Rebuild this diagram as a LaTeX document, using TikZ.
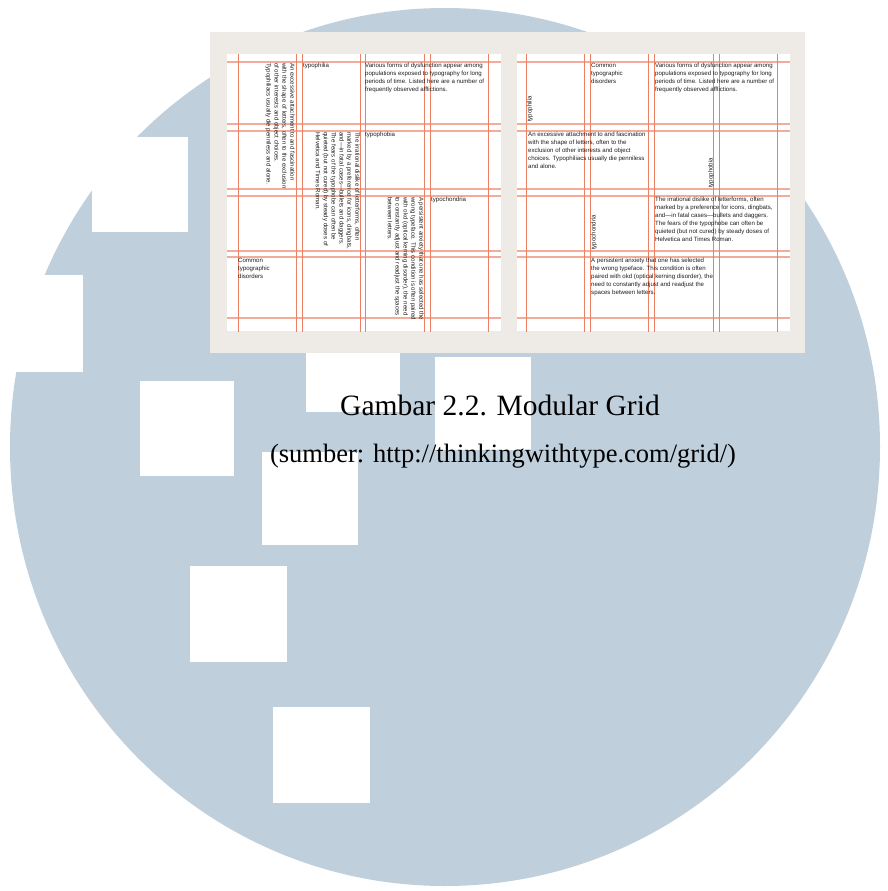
\documentclass[tikz,border=0pt]{standalone}
\usepackage{fontspec}
\setmainfont{Liberation Serif}
\newfontfamily\gridsans{Liberation Sans}
\definecolor{logoblue}{RGB}{192,207,220}
\definecolor{boardgrey}{RGB}{238,235,230}
\definecolor{gridorange}{RGB}{236,128,98}
\definecolor{inkgrey}{RGB}{30,30,30}

\begin{document}
\begin{tikzpicture}[
    x=1pt, y=-1pt,
    tile/.style={fill=white},
    sheet/.style={fill=white},
    vline/.style={draw=gridorange, line width=0.8pt},
    hline/.style={draw=gridorange!65, line width=1.1pt},
    gridtext/.style={anchor=north west, inner sep=0pt, align=left, text=inkgrey, font=\gridsans\fontsize{6.1}{7.9}\selectfont},
    downtext/.style={gridtext, rotate=-90},
    uptext/.style={gridtext, rotate=90},
    captiontext/.style={anchor=base, inner sep=0pt}
]
\useasboundingbox (0,0) rectangle (888,891);
\fill[white] (0,0) rectangle (888,891);

% watermark
\fill[logoblue] (445,447) ellipse [x radius=435pt, y radius=439pt];
\foreach \xa/\ya/\xb/\yb in {-11/275/83/372, 92/137/188/232, 140/381/234/476,
    306/317/400/412, 435/357/531/450, 262/452/358/545, 190/566/287/662, 273/707/370/803}
  \fill[tile] (\xa,\ya) rectangle (\xb,\yb);

% board and the two pages
\fill[boardgrey] (210,32) rectangle (805,353);
\fill[sheet] (227,54) rectangle (501,331);
\fill[sheet] (517,54) rectangle (790,331);

\foreach \gy in {62,124,131,189,196,251,257,318} {
  \draw[hline] (227,\gy) -- (501,\gy);
  \draw[hline] (517,\gy) -- (790,\gy);
}
\foreach \gx in {238,296,302,360,365,424,430,488}
  \draw[vline] (\gx,54) -- (\gx,332);
\foreach \gx in {526,584,590,648,654,713,719,777}
  \draw[vline] (\gx,54) -- (\gx,332);

% left page
\node[downtext] (lattach) at (295,63) {An excessive attachment to and fascination\\with the shape of letters, often to the exclusion\\of other interests and object choices.\\Typophiliacs usually die penniless and alone.};
\node[gridtext] (lphilia) at (303,63) {typophilia};
\node[gridtext] (lforms) at (365,63) {Various forms of dysfunction appear among\\populations exposed to typography for long\\periods of time.  Listed here are a number of\\frequently observed afflictions.};
\node[gridtext] (lphobia) at (365,132) {typophobia};
\node[downtext] (ldislike) at (360,132) {The irrational dislike of letterforms, often\\marked by a preference for icons, dingbats,\\and—in fatal cases—bullets and daggers.\\The fears of the typophobe can often be\\quieted (but not cured) by steady doses of\\Helvetica and Times Roman.};
\node[gridtext] (lchondria) at (431,197) {typochondria};
\node[downtext] (lanxiety) at (424,197) {A persistent anxiety that one has selected the\\wrong typeface. This condition is often paired\\with okd (optical kerning disorder), the need\\to constantly adjust and readjust the spaces\\between letters.};
\node[gridtext] (lcommon) at (238,258) {Common\\typographic\\disorders};

% right page
\node[uptext] (rphilia) at (527,122) {typophilia};
\node[gridtext] (rcommon) at (591,63) {Common\\typographic\\disorders};
\node[gridtext] (rforms) at (655,63) {Various forms of dysfunction appear among\\populations exposed to typography for long\\periods of time.  Listed here are a number of\\frequently observed afflictions.};
\node[gridtext] (rattach) at (528,132) {An excessive attachment to and fascination\\with the shape of letters, often to the\\exclusion of other interests and object\\choices.  Typophiliacs usually die penniless\\and alone.};
\node[uptext] (rphobia) at (708,188) {typophobia};
\node[gridtext] (rdislike) at (655,197) {The irrational dislike of letterforms, often\\marked by a preference for icons, dingbats,\\and—in fatal cases—bullets and daggers.\\The fears of the typophobe can often be\\quieted (but not cured) by steady doses of\\Helvetica and Times Roman.};
\node[uptext] (rchondria) at (591,250) {typochondria};
\node[gridtext] (ranxiety) at (591,258) {A persistent anxiety that one has selected\\the wrong typeface. This condition is often\\paired with okd (optical kerning disorder), the\\need to constantly adjust and readjust the\\spaces between letters.};

% caption
\node[captiontext, font=\fontsize{29.5}{32}\selectfont] (title) at (500,415) {Gambar 2.2. Modular Grid};
\node[captiontext, font=\fontsize{26.5}{30}\selectfont] (source) at (503,462) {(sumber: http://thinkingwithtype.com/grid/)};
\end{tikzpicture}
\end{document}
